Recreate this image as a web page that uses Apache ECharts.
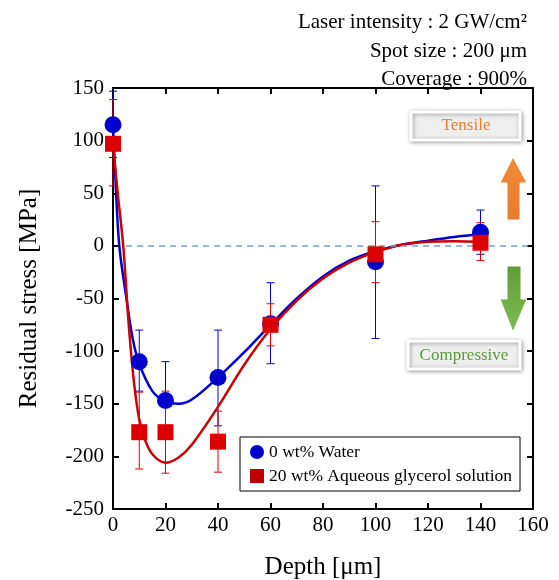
<!DOCTYPE html>
<html>
<head>
<meta charset="utf-8">
<script src="https://cdn.jsdelivr.net/npm/echarts@6/dist/echarts.min.js"></script>
<style>
  html, body { margin: 0; padding: 0; background: #fff; }
  #chart { width: 559px; height: 580px; }
</style>
</head>
<body>
<div id="chart"></div>
<script>
// measured points
const depth = [0, 10, 20, 40, 60, 100, 140];
const waterStress = [115, -110, -147, -125, -74, -15, 13];
const waterErrLow = [84, -138, -183, -171, -112, -88, -8];
const waterErrHigh = [147, -80, -110, -80, -35, 57, 34];
const glycStress = [97, -177, -177, -186, -75, -8, 3];
const glycErrLow = [57, -212, -216, -215, -95, -35, -14];
const glycErrHigh = [139, -139, -138, -157, -55, 23, 22];

// fitted curves
const waterFitDepth = [0, 1, 2.4, 5, 7.5, 10, 15, 20, 25, 30, 40, 50, 60, 70, 80, 90, 100, 110, 120, 130, 140];
const waterFitStress = [115, 60, 0, -48, -88, -112, -138, -148, -150, -146, -125, -101, -75, -50, -29, -14, -5, 1, 5, 8.5, 11];
const glycFitDepth = [0, 1.8, 3.9, 6, 8, 10, 12, 15, 20, 25, 30, 40, 50, 60, 70, 80, 90, 100, 110, 120, 130, 140];
const glycFitStress = [97, 50, 0, -75, -130, -165, -183, -198, -206, -201, -189, -153, -113, -79, -52, -31, -16, -6, 1, 4, 4.5, 4];

const xTicks = { min: 0, max: 160, interval: 20 };
const yTicks = { min: -250, max: 150, interval: 50 };

const blue = "#0000cc";
const red = "#dd0000";
const serif = "Liberation Serif, DejaVu Serif, serif";

let chart = echarts.init(document.getElementById("chart"));

function errBars(color, low, high) {
  return {
    type: "custom",
    z: 3,
    silent: true,
    data: depth.map((d, i) => [d, low[i], high[i]]),
    renderItem: function(params, api) {
      let x = api.value(0);
      let top = api.coord([x, api.value(2)]);
      let bot = api.coord([x, api.value(1)]);
      let w = 4;
      let st = { stroke: color, lineWidth: 1 };
      return {
        type: "group",
        children: [
          { type: "line", shape: { x1: top[0], y1: top[1], x2: bot[0], y2: bot[1] }, style: st },
          { type: "line", shape: { x1: top[0] - w, y1: top[1], x2: top[0] + w, y2: top[1] }, style: st },
          { type: "line", shape: { x1: bot[0] - w, y1: bot[1], x2: bot[0] + w, y2: bot[1] }, style: st }
        ]
      };
    }
  };
}

function axisX(pos, showLabel) {
  return {
    type: "value",
    position: pos,
    min: xTicks.min,
    max: xTicks.max,
    interval: xTicks.interval,
    name: showLabel ? "Depth [\u03bcm]" : "",
    nameLocation: "middle",
    nameGap: 46,
    nameTextStyle: { fontFamily: serif, fontSize: 25, color: "#000" },
    axisLine: { show: true, onZero: false, lineStyle: { color: "#000", width: 2 } },
    axisTick: { show: true, inside: true, length: 6, lineStyle: { color: "#000", width: 2 } },
    axisLabel: { show: showLabel, fontFamily: serif, fontSize: 21, color: "#000", margin: 6 },
    splitLine: { show: false }
  };
}

function axisY(pos, showLabel) {
  return {
    type: "value",
    position: pos,
    min: yTicks.min,
    max: yTicks.max,
    interval: yTicks.interval,
    name: showLabel ? "Residual stress [MPa]" : "",
    nameLocation: "middle",
    nameGap: 71,
    nameTextStyle: { fontFamily: serif, fontSize: 25, color: "#000" },
    axisLine: { show: true, onZero: false, lineStyle: { color: "#000", width: 2 } },
    axisTick: { show: true, inside: true, length: 6, lineStyle: { color: "#000", width: 2 } },
    axisLabel: { show: showLabel, fontFamily: serif, fontSize: 21, color: "#000", margin: 9 },
    splitLine: { show: false }
  };
}

let options = {
  animation: false,
  backgroundColor: "#fff",
  grid: { left: 113, right: 26, top: 88, bottom: 71, outerBoundsMode: "none", containLabel: false },
  xAxis: [axisX("bottom", true), axisX("top", false)],
  yAxis: [axisY("left", true), axisY("right", false)],
  legend: {
    orient: "vertical",
    left: 240,
    top: 437,
    padding: [6, 8, 6, 10],
    itemGap: 6,
    itemWidth: 14,
    itemHeight: 14,
    borderColor: "#000",
    borderWidth: 1,
    borderRadius: 0,
    backgroundColor: "#fff",
    textStyle: { fontFamily: serif, fontSize: 17.5, color: "#000" },
    data: [
      { name: "0 wt% Water", icon: "circle", itemStyle: { color: blue } },
      { name: "20 wt% Aqueous glycerol solution", icon: "rect", itemStyle: { color: "#c00000" } }
    ]
  },
  series: [
    {
      type: "line",
      name: "zero",
      data: [],
      silent: true,
      markLine: {
        symbol: "none",
        silent: true,
        label: { show: false },
        lineStyle: { color: "#6fa0d8", type: [6, 5], width: 1.5 },
        data: [[{ coord: [5, 0] }, { coord: [160, 0] }]]
      }
    },
    errBars(blue, waterErrLow, waterErrHigh),
    errBars(red, glycErrLow, glycErrHigh),
    {
      type: "line",
      name: "water fit",
      z: 4,
      showSymbol: false,
      smooth: 0.35,
      lineStyle: { color: blue, width: 2.5 },
      data: waterFitDepth.map((d, i) => [d, waterFitStress[i]])
    },
    {
      type: "line",
      name: "glyc fit",
      z: 4,
      showSymbol: false,
      smooth: 0.35,
      lineStyle: { color: "#cc0000", width: 2.5 },
      data: glycFitDepth.map((d, i) => [d, glycFitStress[i]])
    },
    {
      type: "scatter",
      name: "0 wt% Water",
      z: 5,
      symbol: "circle",
      symbolSize: 17,
      itemStyle: { color: blue, opacity: 1 },
      data: depth.map((d, i) => [d, waterStress[i]])
    },
    {
      type: "scatter",
      name: "20 wt% Aqueous glycerol solution",
      z: 6,
      symbol: "rect",
      symbolSize: 16,
      itemStyle: { color: red, opacity: 1 },
      data: depth.map((d, i) => [d, glycStress[i]])
    }
  ],
  graphic: [
    { type: "text", right: 32, top: 12, style: { text: "Laser intensity : 2 GW/cm\u00b2", font: "21px " + serif, fill: "#000" } },
    { type: "text", right: 32, top: 41, style: { text: "Spot size : 200 \u03bcm", font: "21px " + serif, fill: "#000" } },
    { type: "text", right: 32, top: 69, style: { text: "Coverage : 900%", font: "21px " + serif, fill: "#000" } },
    {
      type: "rect",
      shape: { x: 411, y: 112, width: 109, height: 28 },
      style: { fill: "#efefef", stroke: "#fff", lineWidth: 3, shadowBlur: 4, shadowOffsetX: 1, shadowOffsetY: 1, shadowColor: "rgba(0,0,0,0.35)" }
    },
    { type: "text", x: 466, y: 126, style: { text: "Tensile", font: "17px " + serif, fill: "#ed7d31", textAlign: "center", textVerticalAlign: "middle" } },
    {
      type: "rect",
      shape: { x: 408, y: 341, width: 112, height: 28 },
      style: { fill: "#efefef", stroke: "#fff", lineWidth: 3, shadowBlur: 4, shadowOffsetX: 1, shadowOffsetY: 1, shadowColor: "rgba(0,0,0,0.35)" }
    },
    { type: "text", x: 464, y: 356, style: { text: "Compressive", font: "17px " + serif, fill: "#5a9a3a", textAlign: "center", textVerticalAlign: "middle" } },
    {
      type: "polygon",
      shape: { points: [[513, 157], [527, 183], [520, 183], [520, 220], [507, 220], [507, 183], [500, 183]] },
      style: {
        fill: new echarts.graphic.LinearGradient(0, 0, 0, 1, [{ offset: 0, color: "#f08a3c" }, { offset: 1, color: "#e97a2c" }]),
        stroke: "#fff", lineWidth: 1
      }
    },
    {
      type: "polygon",
      shape: { points: [[507, 266], [521, 266], [521, 299], [527, 299], [513, 332], [500, 299], [507, 299]] },
      style: {
        fill: new echarts.graphic.LinearGradient(0, 0, 0, 1, [{ offset: 0, color: "#5e9e34" }, { offset: 1, color: "#7dbd55" }]),
        stroke: "#fff", lineWidth: 1
      }
    }
  ]
};

if (options && typeof options === "object") {
  chart.setOption(options, true);
}
window.onresize = function() {
  chart.resize();
};
</script>
</body>
</html>
